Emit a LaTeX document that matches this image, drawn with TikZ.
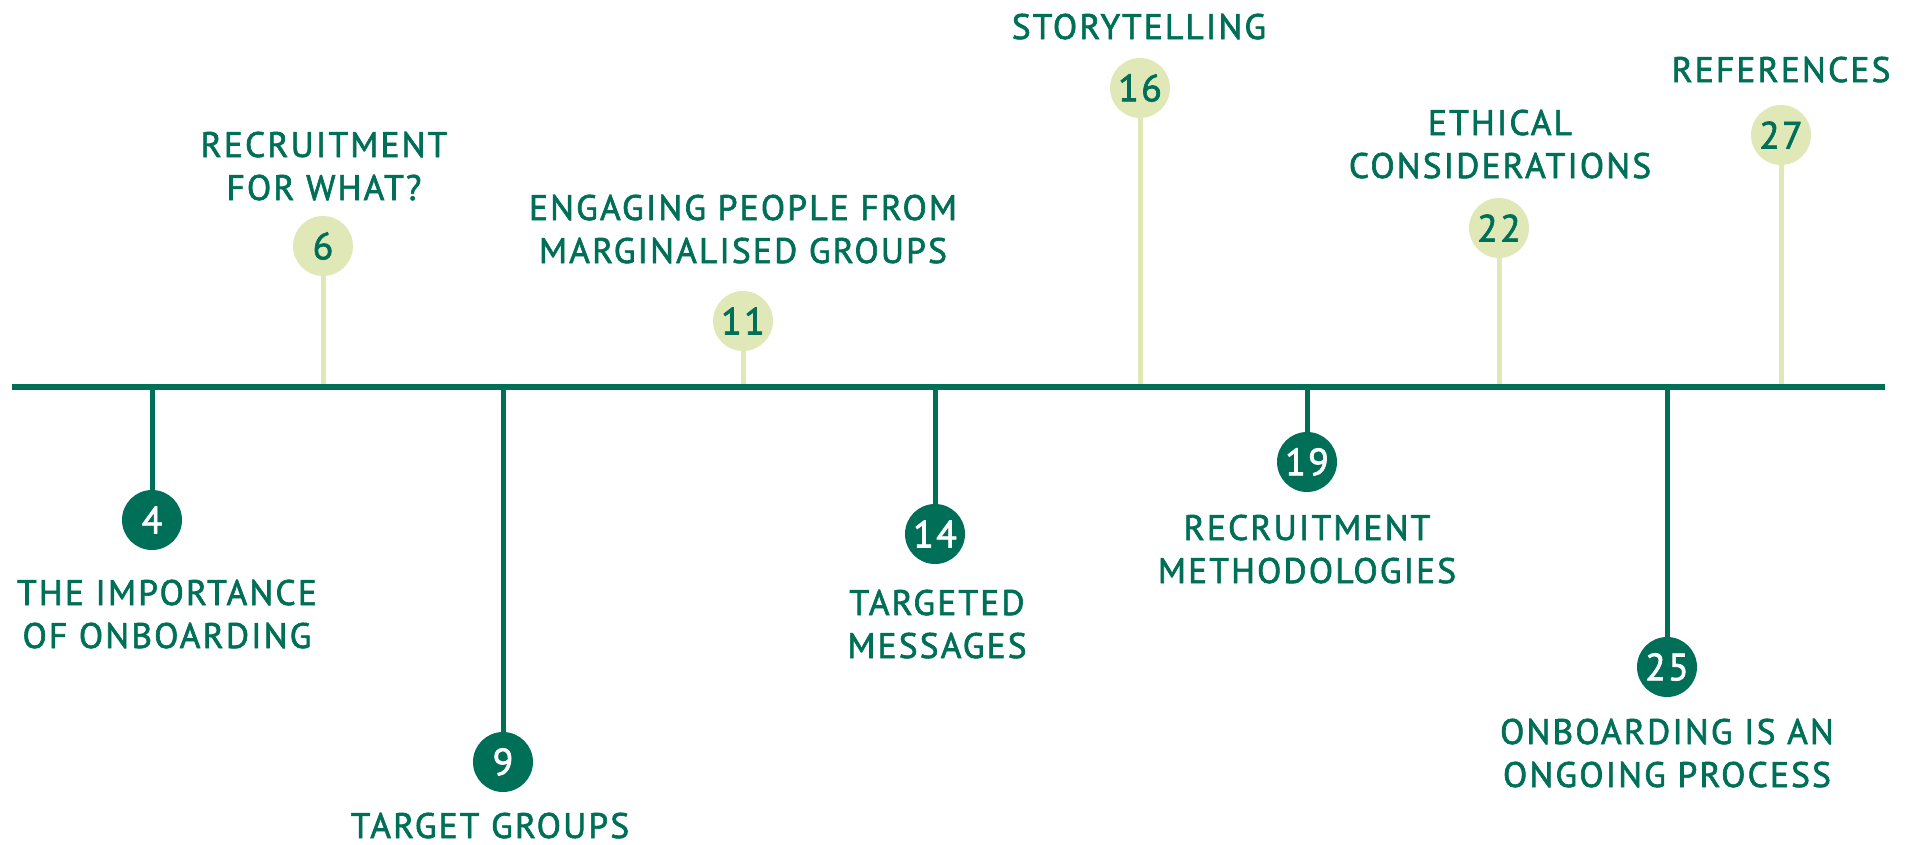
\documentclass[tikz,border=0pt]{standalone}
\usepackage{fontspec}
\setmainfont{PT Sans}[LetterSpace=6,FakeBold=1.8]
\usetikzlibrary{backgrounds}
\definecolor{deepgreen}{HTML}{006F57}
\definecolor{palegreen}{HTML}{E1E8B8}
\begin{document}
\begin{tikzpicture}[x=1pt,y=-1pt,
  dot/.style={circle,minimum size=60pt,inner sep=0pt,font=\fontsize{38}{38}\selectfont},
  darkdot/.style={dot,fill=deepgreen,text=white},
  lightdot/.style={dot,fill=palegreen,text=deepgreen},
  darkstem/.style={draw=deepgreen,line width=5pt},
  lightstem/.style={draw=palegreen,line width=5pt},
  axisline/.style={draw=deepgreen,line width=6pt},
  caption/.style={text=deepgreen,align=center,anchor=base,inner sep=0pt,font=\fontsize{35.5}{43}\selectfont}]
\useasboundingbox (0,0) rectangle (1917,844);

% timeline axis
\coordinate (axisL) at (12,387);
\coordinate (axisR) at (1885,387);

% chapter markers
\node[darkdot]  (n4)  at (152,520)  {4};
\node[lightdot] (n6)  at (323,246)  {6};
\node[darkdot]  (n9)  at (503,762)  {9};
\node[lightdot] (n11) at (743,321)  {11};
\node[darkdot]  (n14) at (935,534)  {14};
\node[lightdot] (n16) at (1140,88)  {16};
\node[darkdot]  (n19) at (1307,462) {19};
\node[lightdot] (n22) at (1499,228) {22};
\node[darkdot]  (n25) at (1667,667) {25};
\node[lightdot] (n27) at (1781,135) {27};

% stems joining each marker to the axis, behind the markers
\begin{scope}[on background layer]
\foreach \n in {n4,n9,n14,n19,n25} \draw[darkstem] (\n.center) -- (\n |- axisL);
\foreach \n in {n6,n11,n16,n22,n27} \draw[lightstem] (\n.center) -- (\n |- axisL);
\draw[axisline] (axisL) -- (axisR);
\end{scope}

% chapter titles (anchored on the baseline of their last line)
\node[caption] (t4)  at (167,648)  {THE IMPORTANCE\\OF ONBOARDING};
\node[caption] (t6)  at (324,200)  {RECRUITMENT\\FOR WHAT?};
\node[caption] (t9)  at (490,838)  {TARGET GROUPS};
\node[caption] (t11) at (743,263)  {ENGAGING PEOPLE FROM\\MARGINALISED GROUPS};
\node[caption] (t14) at (937,658)  {TARGETED\\MESSAGES};
\node[caption] (t16) at (1139,39)  {STORYTELLING};
\node[caption] (t19) at (1307,583) {RECRUITMENT\\METHODOLOGIES};
\node[caption] (t22) at (1500,178) {ETHICAL\\CONSIDERATIONS};
\node[caption] (t25) at (1667,787) {ONBOARDING IS AN\\ONGOING PROCESS};
\node[caption] (t27) at (1781,82)  {REFERENCES};
\end{tikzpicture}
\end{document}
